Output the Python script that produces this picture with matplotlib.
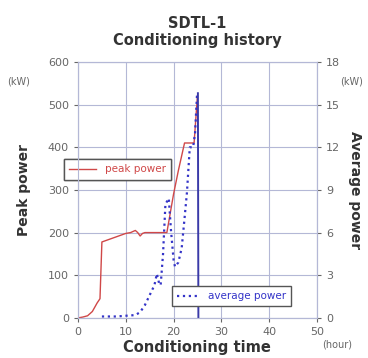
import matplotlib.pyplot as plt

# -------------------- DATA --------------------
peak_t = [0, 1, 2, 3, 4, 4.6, 5, 6, 8, 10, 11, 12, 12.5, 13, 13.5, 14, 16, 18.6, 20, 21, 22.3, 23, 24.3, 25]
peak_p = [0, 2, 5, 15, 35, 45, 178, 182, 190, 198, 200, 205, 200, 192, 198, 200, 200, 200, 290, 345, 410, 410, 410, 520]

avg_t = [5, 8, 10, 12, 13, 14, 15, 16, 16.5, 17, 17.3, 17.8, 18.3, 19, 19.5, 20, 20.3, 21, 21.7, 22.3, 22.8, 23.4, 24.1, 24.5, 24.9, 25.1, 25.2]
avg_p = [0.1, 0.1, 0.15, 0.2, 0.4, 0.9, 1.6, 2.3, 3.1, 2.4, 2.3, 4.5, 8.0, 8.4, 6.0, 4.1, 3.6, 3.9, 4.9, 7.0, 8.8, 12.0, 12.0, 13.0, 15.6, 15.8, 0]

x_ticks = [0, 10, 20, 30, 40, 50]
left_ticks = [0, 100, 200, 300, 400, 500, 600]
right_ticks = [0, 3, 6, 9, 12, 15, 18]

red = '#d04848'
blue = '#3434c8'
grid_c = '#b4b8d6'
text_c = '#666666'
label_c = '#333333'

fig = plt.figure(figsize=(3.68, 3.58), dpi=100)
ax = fig.add_axes([0.212, 0.112, 0.649, 0.715])
ax2 = ax.twinx()

# peak power (left axis)
l1, = ax.plot(peak_t, peak_p, color=red, lw=1.0, label='peak power')
# average power (right axis), last drop drawn solid
l2, = ax2.plot(avg_t[:-1], avg_p[:-1], color=blue, lw=1.6, ls=':', label='average power')
ax2.plot(avg_t[-2:], avg_p[-2:], color='#3a3aa8', lw=1.4)

ax.set_xlim(0, 50)
ax.set_ylim(0, 600)
ax2.set_ylim(0, 18)
ax.set_xticks(x_ticks)
ax.set_yticks(left_ticks)
ax2.set_yticks(right_ticks)
ax.grid(True, color=grid_c, lw=0.8)

for a in (ax, ax2):
    a.tick_params(labelsize=8, colors=text_c, length=3)
    for s in a.spines.values():
        s.set_color(grid_c)

ax.set_ylabel('Peak power', fontsize=10, fontweight='bold', color=label_c, labelpad=12)
ax2.set_ylabel('Average power', fontsize=10, fontweight='bold', color=label_c, rotation=-90, labelpad=16)
ax.set_xlabel('Conditioning time', fontsize=10.5, fontweight='bold', color=label_c, labelpad=2)
ax.set_title('SDTL-1\nConditioning history', fontsize=10.5, fontweight='bold', color=label_c, pad=12)

fig.text(0.02, 0.771, '(kW)', fontsize=7, color=text_c, va='center')
fig.text(0.925, 0.771, '(kW)', fontsize=7, color=text_c, va='center')
fig.text(0.875, 0.03, '(hour)', fontsize=7, color=text_c)

leg1 = ax.legend(handles=[l1], loc='center left', bbox_to_anchor=(-0.08, 0.58), fontsize=7.5,
                 fancybox=False, edgecolor='#555555', handlelength=2.6, borderpad=0.5, framealpha=1)
for t in leg1.get_texts():
    t.set_color(red)
ax.add_artist(leg1)
leg2 = ax2.legend(handles=[l2], loc='center left', bbox_to_anchor=(0.37, 0.085), fontsize=7.5,
                  fancybox=False, edgecolor='#555555', handlelength=2.2, borderpad=0.5, framealpha=1)
for t in leg2.get_texts():
    t.set_color(blue)

fig.savefig('out.png', dpi=100)
